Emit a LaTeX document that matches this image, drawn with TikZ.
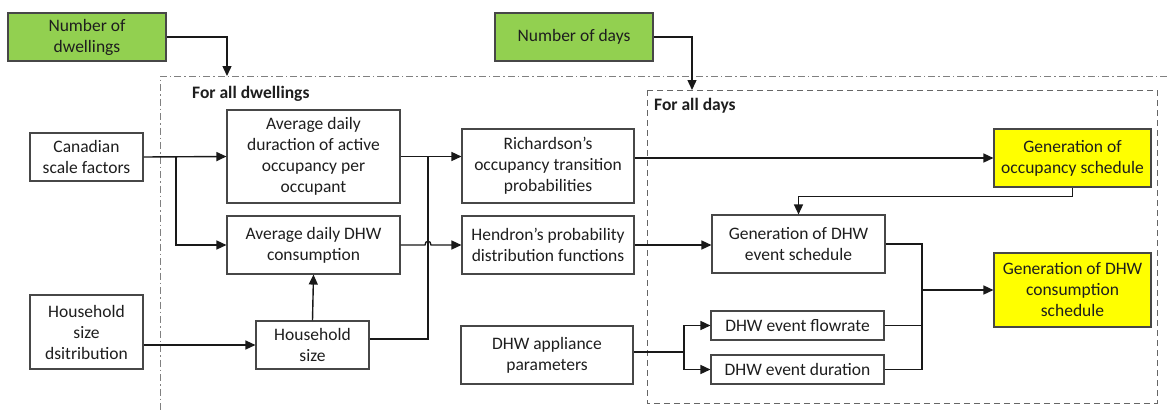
\documentclass[tikz,border=0pt]{standalone}
\usepackage{fontspec}
\setmainfont{Carlito}
\usetikzlibrary{arrows.meta,calc}
\definecolor{inputgreen}{HTML}{92D050}
\definecolor{outyellow}{HTML}{FFFF00}
\definecolor{inkgrey}{HTML}{1E1E1E}
\begin{document}
\begin{tikzpicture}[x=1pt,y=-1pt,
  box/.style={draw=black!72, line width=1.1pt, fill=white, align=center,
    inner sep=0pt, font=\fontsize{17.5}{21}\selectfont, text=inkgrey},
  inbox/.style={box, fill=inputgreen},
  outbox/.style={box, fill=outyellow},
  conn/.style={line width=1.4pt, draw=black!90},
  arr/.style={conn, -{Triangle[length=10pt,width=9pt]}},
  looplabel/.style={anchor=west, inner sep=0pt, font=\fontsize{17.5}{21}\selectfont\bfseries, text=inkgrey},
  dwellingloop/.style={draw=black!50, line width=1pt, dash pattern=on 7pt off 3pt on 1.5pt off 3pt},
  dayloop/.style={draw=black!60, line width=1pt, dash pattern=on 6pt off 4pt}]
\useasboundingbox (0,0) rectangle (1167,410);

% loop frames
\draw[dwellingloop] (1167,76) -- (160,76) -- (160,410);
\draw[dayloop] (647,90) rectangle (1157,403);
\node[looplabel] (lblDw) at (192,94) {For all dwellings};
\node[looplabel] (lblDy) at (654,106) {For all days};
\coordinate (dwIn) at (227,76);
\coordinate (dyIn) at (692,90);

% inputs
\node[inbox, minimum width=158pt, minimum height=48pt] (dw) at (87,37) {Number of\\dwellings};
\node[inbox, minimum width=158pt, minimum height=48pt] (days) at (574,37) {Number of days};
\node[box, minimum width=113pt, minimum height=48pt] (can) at (86.5,157) {Canadian\\scale factors};
\node[box, minimum width=113pt, minimum height=74pt] (hsd) at (86.5,332) {Household\\size\\dsitribution};

% dwelling level
\node[box, minimum width=173pt, minimum height=93pt] (add) at (313.5,156.5) {Average daily\\duraction of active\\occupancy per\\occupant};
\node[box, minimum width=173pt, minimum height=58pt] (adc) at (313.5,245) {Average daily DHW\\consumption};
\node[box, minimum width=113pt, minimum height=48pt] (hs) at (312.5,345) {Household\\size};
\node[box, minimum width=172pt, minimum height=74pt] (rich) at (548,166) {Richardson’s\\occupancy transition\\probabilities};
\node[box, minimum width=172pt, minimum height=58pt] (hen) at (548,245) {Hendron’s probability\\distribution functions};
\node[box, minimum width=172pt, minimum height=58pt] (app) at (547,355) {DHW appliance\\parameters};

% day level
\node[outbox, minimum width=157pt, minimum height=58pt] (gocc) at (1072.5,158) {Generation of\\occupancy schedule};
\node[box, minimum width=173pt, minimum height=58pt] (gev) at (798.5,244) {Generation of DHW\\event schedule};
\node[box, minimum width=173pt, minimum height=29pt] (flow) at (797.5,325.5) {DHW event flowrate};
\node[box, minimum width=173pt, minimum height=29pt] (dur) at (797.5,369.5) {DHW event duration};
\node[outbox, minimum width=157pt, minimum height=74pt] (gcons) at (1072.5,290) {Generation of DHW\\consumption\\schedule};

% junction points
\coordinate (canSplit) at (176,157);
\coordinate (hsBus) at (428,157);
\coordinate (hopL) at (425,245);
\coordinate (hopR) at (431,245);
\coordinate (appSplit) at (684,352);
\coordinate (dhwBus) at (922,290);

% loop counters
\draw[arr] (dw.east) -| (dwIn);
\draw[arr] (days.east) -| (dyIn);

% dwelling-level flows
\draw[arr] (can.east) -- (add.west);
\draw[arr] (canSplit) |- (adc.west);
\draw[arr] (hsd.east |- hs.west) -- (hs.west);
\draw[arr] (hs.north) -- (adc.south);
\draw[arr] (add.east) -- (add.east -| rich.west);
\draw[conn] ([yshift=6pt]hs.east) -| (hsBus);
\draw[arr] (adc.east) -- (hopL) .. controls ($(hopL)+(0,-5)$) and ($(hopR)+(0,-5)$) .. (hopR) -- (hen.west);

% day-level flows
\draw[arr] (rich.east |- gocc.west) -- (gocc.west);
\draw[arr] (gocc.south) -- ++(0,9) -| (gev.north);
\draw[arr] (hen.east) -- (hen.east -| gev.west);
\draw[conn] (app.east |- appSplit) -- (appSplit);
\draw[arr] (appSplit) |- (flow.west);
\draw[arr] (appSplit) |- (dur.west);
\draw[conn] (gev.east) -| (dhwBus);
\draw[conn] (flow.east) -| (dhwBus);
\draw[conn] (dur.east) -| (dhwBus);
\draw[arr] (dhwBus) -- (gcons.west);
\end{tikzpicture}
\end{document}
